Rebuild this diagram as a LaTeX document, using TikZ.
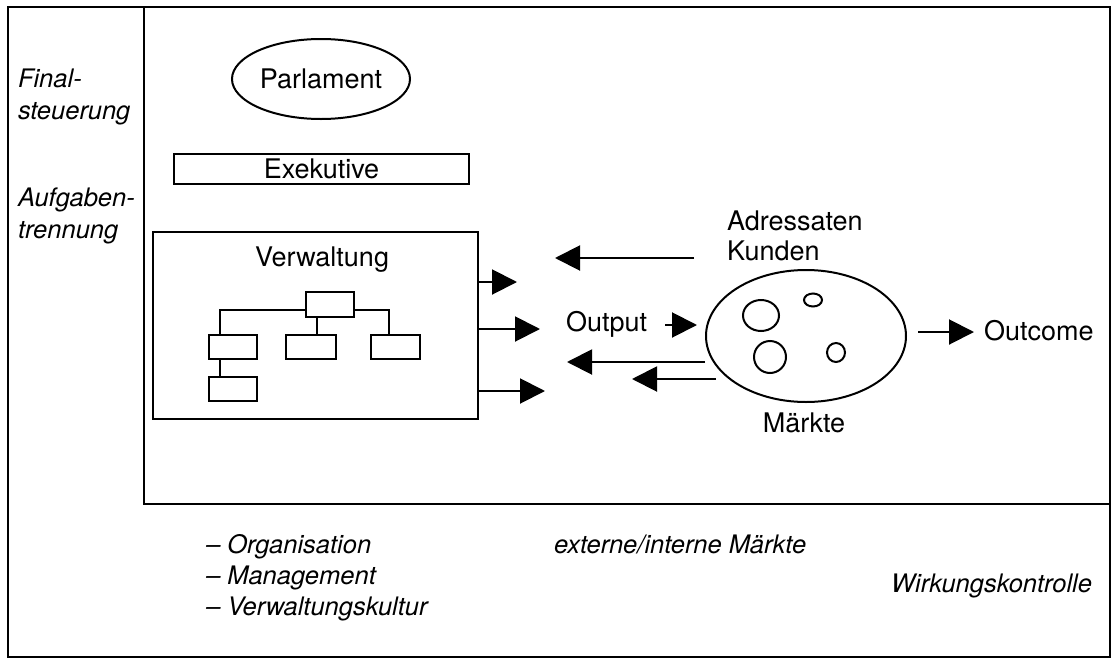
\documentclass[tikz,border=0pt]{standalone}
\usepackage{fontspec}
\setmainfont{TeX Gyre Heros}
\usetikzlibrary{arrows.meta,shapes.geometric}
\begin{document}
\begin{tikzpicture}[x=1pt,y=-1pt,line width=2pt,
  every node/.style={inner sep=0pt,font=\fontsize{27}{32}\selectfont},
  lab/.style={anchor=base west},
  itl/.style={anchor=base west,font=\fontsize{25.5}{32}\selectfont\itshape},
  orgbox/.style={draw,rectangle,minimum width=48pt,minimum height=24pt},
  blob/.style={draw,ellipse},
  arr/.style={-{Triangle[length=25pt,width=25pt]}}]
\useasboundingbox (0,0) rectangle (1112,659);
% frame
\draw (8,7) rectangle (1110,657);
\draw (144,7) -- (144,504) -- (1110,504);
% left labels
\node[itl] (fin) at (17,87) {Final-};
\node[itl] (steu) at (17,119) {steuerung};
\node[itl] (aufg) at (17,206) {Aufgaben-};
\node[itl] (trenn) at (17,238) {trennung};
% Parlament, Exekutive
\node[draw,ellipse,minimum width=178pt,minimum height=80pt] (parl) at (321,79) {Parlament};
\node[draw,rectangle,minimum width=295pt,minimum height=30pt] (exek) at (321.5,169) {Exekutive};
% Verwaltung
\node[draw,rectangle,minimum width=325pt,minimum height=187pt] (verw) at (315.5,325.5) {};
\node[anchor=base] (verwlab) at (322,266) {Verwaltung};
% org chart
\node[orgbox,minimum height=25pt] (o0) at (330,304.5) {};
\node[orgbox] (o1) at (233,347) {};
\node[orgbox,minimum width=50pt] (o2) at (311,347) {};
\node[orgbox,minimum width=49pt] (o3) at (395.5,347) {};
\node[orgbox] (o4) at (233,389) {};
\coordinate (j1) at (220,310);
\coordinate (j2) at (389,310);
\coordinate (j3) at (317,317);
\draw (o0.west |- j1) -| (j1 |- o1.north);
\draw (o0.east |- j2) -| (j2 |- o3.north);
\draw (j3 |- o0.south) -- (j3 |- o2.north);
\draw (j1 |- o1.south) -- (j1 |- o4.north);
% arrows out of Verwaltung
\coordinate (a1e) at (517,282);
\coordinate (a2e) at (540,329);
\coordinate (a3e) at (545,391);
\draw[arr] (verw.east |- a1e) -- (a1e);
\draw[arr] (verw.east |- a2e) -- (a2e);
\draw[arr] (verw.east |- a3e) -- (a3e);
% arrows back
\coordinate (b1s) at (694,258);
\coordinate (b1e) at (555,258);
\coordinate (b2s) at (705,362);
\coordinate (b2e) at (567,362);
\coordinate (b3s) at (716,379);
\coordinate (b3e) at (632,379);
\draw[arr] (b1s) -- (b1e);
\draw[arr] (b2s) -- (b2e);
\draw[arr] (b3s) -- (b3e);
% markets
\node[draw,ellipse,minimum width=200pt,minimum height=132pt] (mkt) at (806,336) {};
\node[blob,minimum width=36pt,minimum height=31pt] (c1) at (761,315.5) {};
\node[blob,minimum width=18pt,minimum height=13pt] (c2) at (813,300) {};
\node[blob,minimum width=32pt,minimum height=32pt] (c3) at (770,357) {};
\node[blob,minimum width=18pt,minimum height=19pt] (c4) at (836,352.5) {};
\node[lab] (adr) at (726,230) {Adressaten};
\node[lab] (kun) at (726,260) {Kunden};
\node[anchor=base] (mae) at (804,432) {Märkte};
\node[lab] (out) at (565,331) {Output};
\coordinate (os) at (665,325);
\coordinate (oe) at (697,325);
\draw[arr] (os) -- (oe);
\coordinate (ocs) at (918,332);
\coordinate (oce) at (974,332);
\draw[arr] (ocs) -- (oce);
\node[lab] (outc) at (983,340) {Outcome};
% bottom texts
\node[itl] (org) at (205,553) {– Organisation};
\node[itl] (man) at (205,584) {– Management};
\node[itl] (vk) at (205,615) {– Verwaltungskultur};
\node[itl] (mk) at (553,553) {externe/interne Märkte};
\node[itl,anchor=base east] (wk) at (1093,592) {Wirkungskontrolle};
\end{tikzpicture}
\end{document}
